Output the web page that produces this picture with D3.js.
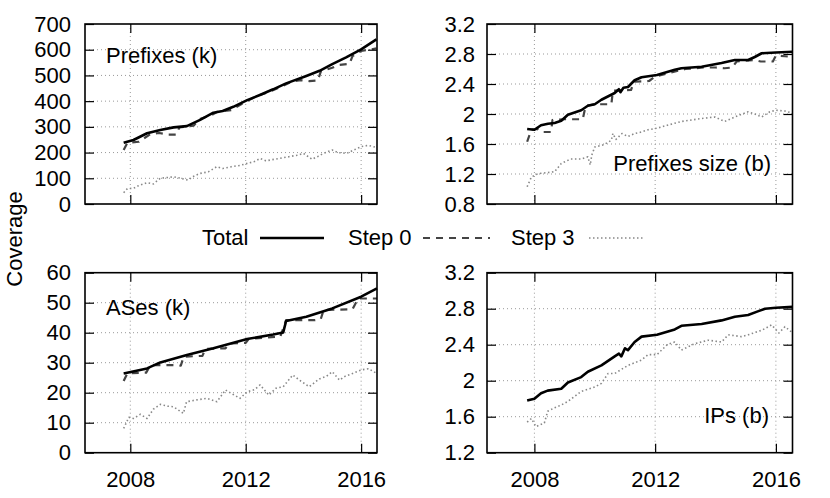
<!DOCTYPE html>
<html>
<head>
<meta charset="utf-8">
<script src="https://cdn.jsdelivr.net/npm/d3@7"></script>
<style>
  body { margin: 0; background: #fff; }
  svg { display: block; font-family: "Liberation Sans", Arial, sans-serif; }
</style>
</head>
<body>
<div id="chart"></div>
<script>
const WIDTH = 830;
const HEIGHT = 498;
const FONT_SIZE = 22;

const seriesNames = ["Total", "Step 0", "Step 3"];
const yearTicks = [2008, 2012, 2016];
const xDomain = [2006.43, 2016.55];

// [year, value]
const prefixesTotal = [[2007.77, 238], [2008.11, 249], [2008.58, 275], [2009.04, 288], [2009.5, 298], [2009.96, 303], [2010.42, 327], [2010.88, 355], [2011.2, 362], [2011.57, 378], [2012.05, 404], [2012.49, 424], [2012.95, 446], [2013.4, 469], [2014.1, 498], [2014.56, 518], [2015.0, 544], [2015.48, 570], [2016.0, 601], [2016.53, 640]];
const prefixesStep0 = [[2007.77, 210], [2007.9, 238], [2008.3, 242], [2008.4, 250], [2008.7, 272], [2009.0, 276], [2009.3, 270], [2009.6, 270], [2009.7, 298], [2010.2, 305], [2010.4, 330], [2010.8, 345], [2011.0, 358], [2011.5, 365], [2012.0, 398], [2012.4, 420], [2012.9, 440], [2013.3, 460], [2013.6, 476], [2013.9, 482], [2014.2, 478], [2014.5, 480], [2014.6, 515], [2015.0, 530], [2015.2, 540], [2015.6, 545], [2015.7, 575], [2016.0, 595], [2016.53, 605]];
const prefixesStep3 = [[2007.77, 44], [2007.9, 60], [2008.11, 61], [2008.3, 72], [2008.58, 83], [2008.8, 78], [2009.04, 100], [2009.3, 103], [2009.5, 106], [2009.75, 100], [2010.0, 93], [2010.2, 108], [2010.42, 119], [2010.7, 125], [2011.0, 145], [2011.2, 138], [2011.5, 145], [2011.8, 150], [2012.05, 158], [2012.3, 165], [2012.5, 177], [2012.7, 168], [2013.0, 174], [2013.3, 180], [2013.5, 184], [2013.8, 190], [2014.0, 197], [2014.3, 174], [2014.5, 185], [2014.7, 197], [2015.0, 210], [2015.2, 200], [2015.5, 197], [2015.75, 210], [2016.0, 223], [2016.25, 228], [2016.53, 220]];

const sizeTotal = [[2007.76, 1.80], [2008.0, 1.79], [2008.22, 1.85], [2008.45, 1.87], [2008.67, 1.88], [2008.89, 1.91], [2009.11, 1.99], [2009.55, 2.05], [2009.77, 2.11], [2010.0, 2.13], [2010.22, 2.19], [2010.66, 2.28], [2010.8, 2.33], [2010.85, 2.29], [2010.95, 2.35], [2011.1, 2.36], [2011.32, 2.45], [2011.55, 2.49], [2012.06, 2.52], [2012.65, 2.59], [2012.87, 2.61], [2013.54, 2.63], [2014.2, 2.68], [2014.64, 2.72], [2015.08, 2.72], [2015.3, 2.76], [2015.53, 2.81], [2016.0, 2.82], [2016.56, 2.83]];
const sizeStep0 = [[2007.76, 1.63], [2007.9, 1.79], [2008.1, 1.80], [2008.25, 1.76], [2008.55, 1.76], [2008.6, 1.92], [2009.0, 1.93], [2009.6, 1.93], [2009.7, 2.11], [2010.0, 2.13], [2010.55, 2.13], [2010.6, 2.31], [2011.2, 2.32], [2011.3, 2.43], [2011.8, 2.44], [2012.0, 2.50], [2012.5, 2.55], [2013.0, 2.60], [2013.6, 2.62], [2014.0, 2.62], [2014.3, 2.61], [2014.55, 2.62], [2014.7, 2.70], [2015.3, 2.72], [2015.5, 2.70], [2015.9, 2.70], [2016.0, 2.78], [2016.3, 2.77], [2016.56, 2.76]];
const sizeStep3 = [[2007.76, 1.03], [2007.9, 1.16], [2008.1, 1.20], [2008.22, 1.21], [2008.45, 1.22], [2008.67, 1.23], [2008.89, 1.34], [2009.2, 1.40], [2009.55, 1.40], [2009.77, 1.43], [2009.85, 1.32], [2009.9, 1.45], [2010.0, 1.56], [2010.3, 1.59], [2010.55, 1.65], [2010.6, 1.74], [2010.7, 1.66], [2010.9, 1.74], [2011.1, 1.70], [2011.32, 1.74], [2011.55, 1.76], [2011.77, 1.79], [2012.06, 1.81], [2012.4, 1.85], [2012.87, 1.90], [2013.2, 1.92], [2013.54, 1.94], [2013.98, 1.96], [2014.3, 1.90], [2014.64, 1.96], [2015.08, 2.03], [2015.3, 2.00], [2015.53, 1.96], [2015.8, 2.03], [2016.0, 2.05], [2016.3, 2.04], [2016.56, 2.01]];

const asesTotal = [[2007.77, 26.4], [2008.58, 28.1], [2009.04, 30.1], [2009.96, 32.6], [2010.88, 34.8], [2012.05, 37.9], [2012.95, 39.4], [2013.3, 40.1], [2013.4, 43.9], [2014.1, 45.3], [2015.0, 48.1], [2016.0, 52.0], [2016.55, 54.8]];
const asesStep0 = [[2007.77, 23.9], [2007.9, 26.5], [2008.55, 26.7], [2008.7, 29.2], [2009.6, 29.2], [2009.75, 29.0], [2009.85, 32.0], [2010.5, 32.3], [2010.6, 34.6], [2011.3, 34.8], [2011.45, 36.4], [2012.0, 36.6], [2012.1, 37.9], [2012.9, 38.5], [2013.2, 38.7], [2013.4, 44.2], [2014.4, 44.2], [2014.6, 44.5], [2014.7, 47.6], [2015.7, 47.8], [2015.9, 51.4], [2016.55, 51.4]];
const asesStep3 = [[2007.77, 8.1], [2007.95, 11.8], [2008.11, 11.4], [2008.35, 12.8], [2008.58, 11.4], [2008.8, 14.5], [2009.04, 16.1], [2009.3, 15.5], [2009.5, 15.3], [2009.84, 13.1], [2009.95, 17.0], [2010.3, 17.6], [2010.65, 18.1], [2011.0, 17.0], [2011.3, 20.9], [2011.55, 19.5], [2011.8, 18.1], [2012.05, 20.3], [2012.3, 21.0], [2012.5, 22.6], [2012.8, 19.2], [2013.05, 21.5], [2013.3, 22.0], [2013.63, 25.9], [2013.86, 24.2], [2014.2, 22.0], [2014.55, 24.6], [2014.8, 25.5], [2015.0, 27.0], [2015.25, 24.2], [2015.45, 25.5], [2015.7, 26.4], [2016.0, 27.6], [2016.25, 28.0], [2016.55, 26.4]];

const ipsTotal = [[2007.76, 1.78], [2008.0, 1.80], [2008.22, 1.86], [2008.44, 1.89], [2008.89, 1.91], [2009.11, 1.98], [2009.55, 2.04], [2009.77, 2.10], [2010.22, 2.17], [2010.66, 2.27], [2010.8, 2.30], [2010.88, 2.27], [2011.0, 2.36], [2011.1, 2.34], [2011.32, 2.43], [2011.55, 2.49], [2012.06, 2.51], [2012.65, 2.57], [2012.87, 2.61], [2013.54, 2.63], [2014.2, 2.67], [2014.64, 2.71], [2015.08, 2.73], [2015.4, 2.77], [2015.64, 2.80], [2016.0, 2.81], [2016.56, 2.82]];
const ipsStep3 = [[2007.76, 1.54], [2007.9, 1.58], [2008.05, 1.49], [2008.33, 1.53], [2008.44, 1.66], [2008.67, 1.70], [2008.89, 1.73], [2009.11, 1.77], [2009.55, 1.88], [2010.0, 1.93], [2010.22, 1.97], [2010.44, 2.08], [2010.66, 2.08], [2011.1, 2.17], [2011.55, 2.23], [2011.77, 2.29], [2012.06, 2.29], [2012.4, 2.40], [2012.65, 2.43], [2012.87, 2.34], [2013.3, 2.41], [2013.76, 2.45], [2014.2, 2.43], [2014.42, 2.51], [2014.86, 2.49], [2015.08, 2.51], [2015.53, 2.56], [2015.86, 2.62], [2016.1, 2.53], [2016.3, 2.60], [2016.56, 2.53]];

const prefixesTicks = [0, 100, 200, 300, 400, 500, 600, 700];
const sizeTicks = [0.8, 1.2, 1.6, 2, 2.4, 2.8, 3.2];
const asesTicks = [0, 10, 20, 30, 40, 50, 60];
const ipsTicks = [1.2, 1.6, 2, 2.4, 2.8, 3.2];

const styles = {
  "Total": { stroke: "#000", width: 2.6, dash: null },
  "Step 0": { stroke: "#444", width: 2.2, dash: "7,6" },
  "Step 3": { stroke: "#888", width: 1.6, dash: "1.5,2.5" }
};

const panels = [
  { label: "Prefixes (k)", anchor: "start", lx: 106, ly: 63, x0: 85, x1: 377, y0: 24, y1: 204, ticks: prefixesTicks, pad: 14, showX: false,
    series: [["Step 3", prefixesStep3], ["Step 0", prefixesStep0], ["Total", prefixesTotal]] },
  { label: "Prefixes size (b)", anchor: "end", lx: 771, ly: 171, x0: 487, x1: 792.5, y0: 24, y1: 204, ticks: sizeTicks, pad: 12, showX: false,
    series: [["Step 3", sizeStep3], ["Step 0", sizeStep0], ["Total", sizeTotal]] },
  { label: "ASes (k)", anchor: "start", lx: 106, ly: 315, x0: 85, x1: 377, y0: 272.7, y1: 452.7, ticks: asesTicks, pad: 14, showX: true,
    series: [["Step 3", asesStep3], ["Step 0", asesStep0], ["Total", asesTotal]] },
  { label: "IPs (b)", anchor: "end", lx: 769, ly: 423, x0: 487, x1: 792.5, y0: 272.7, y1: 452.7, ticks: ipsTicks, pad: 12, showX: true,
    series: [["Step 3", ipsStep3], ["Total", ipsTotal]] }
];

const svg = d3.select("#chart").append("svg")
  .attr("width", WIDTH)
  .attr("height", HEIGHT)
  .style("font-size", FONT_SIZE + "px");

panels.forEach(p => {
  const w = p.x1 - p.x0;
  const h = p.y1 - p.y0;
  const x = d3.scaleLinear().domain(xDomain).range([0, w]);
  const y = d3.scaleLinear().domain(d3.extent(p.ticks)).range([h, 0]);

  const g = svg.append("g").attr("transform", `translate(${p.x0},${p.y0})`);

  // dotted grid
  const grid = g.append("g").attr("class", "grid");
  grid.selectAll("line.gy")
    .data(p.ticks.slice(1, -1))
    .join("line")
    .attr("x1", 0).attr("x2", w)
    .attr("y1", d => y(d)).attr("y2", d => y(d));
  grid.selectAll("line.gx")
    .data(yearTicks)
    .join("line")
    .attr("class", "gx")
    .attr("x1", d => x(d)).attr("x2", d => x(d))
    .attr("y1", 0).attr("y2", h);
  grid.selectAll("line")
    .attr("stroke", "#999")
    .attr("stroke-width", 1)
    .attr("stroke-dasharray", "1,3");

  // lines
  const line = d3.line().x(d => x(d[0])).y(d => y(d[1]));
  p.series.forEach(([name, values]) => {
    const s = styles[name];
    g.append("path")
      .datum(values)
      .attr("d", line)
      .attr("fill", "none")
      .attr("stroke", s.stroke)
      .attr("stroke-width", s.width)
      .attr("stroke-dasharray", s.dash)
      .attr("stroke-linejoin", "round");
  });

  // axes with inward ticks on all sides
  const left = g.append("g")
    .call(d3.axisLeft(y).tickValues(p.ticks).tickSize(-9).tickPadding(p.pad).tickFormat(d3.format("~g")));
  g.append("g").attr("transform", `translate(${w},0)`)
    .call(d3.axisRight(y).tickValues(p.ticks).tickSize(-9).tickFormat(""));
  const bottom = g.append("g").attr("transform", `translate(0,${h})`)
    .call(d3.axisBottom(x).tickValues(yearTicks).tickSize(-9).tickPadding(19)
      .tickFormat(p.showX ? d3.format("d") : ""));
  g.append("g")
    .call(d3.axisTop(x).tickValues(yearTicks).tickSize(-9).tickFormat(""));

  g.selectAll(".domain").remove();
  g.selectAll(".tick line").attr("stroke", "#000").attr("stroke-width", 1.2);
  g.selectAll(".tick text")
    .attr("fill", "#000")
    .style("font-size", FONT_SIZE + "px")
    .style("font-family", '"Liberation Sans", Arial, sans-serif');

  g.append("rect")
    .attr("width", w).attr("height", h)
    .attr("fill", "none")
    .attr("stroke", "#000")
    .attr("stroke-width", 1.6);

  svg.append("text")
    .attr("x", p.lx).attr("y", p.ly)
    .attr("text-anchor", p.anchor)
    .text(p.label);
});

// y title
svg.append("text")
  .attr("transform", "translate(22,239) rotate(-90)")
  .attr("text-anchor", "middle")
  .text("Coverage");

// legend
const legendX = [202, 348, 511];
const legendLine = [[260, 324], [423, 490], [589, 644]];
seriesNames.forEach((name, i) => {
  const s = styles[name];
  svg.append("text")
    .attr("x", legendX[i]).attr("y", 244.5)
    .text(name);
  svg.append("line")
    .attr("x1", legendLine[i][0]).attr("x2", legendLine[i][1])
    .attr("y1", 238).attr("y2", 238)
    .attr("stroke", s.stroke)
    .attr("stroke-width", s.width)
    .attr("stroke-dasharray", s.dash);
});
</script>
</body>
</html>
